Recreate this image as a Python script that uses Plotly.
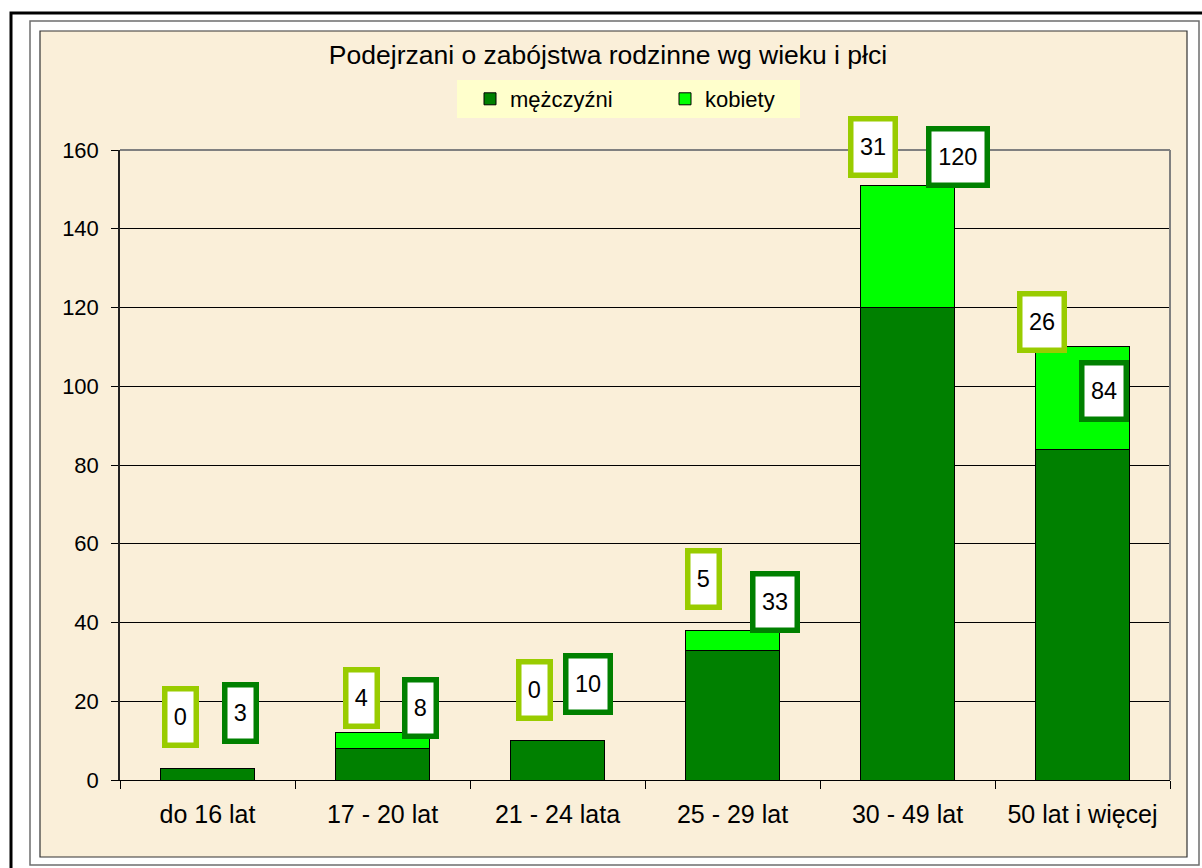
import plotly.graph_objects as go

# ---------------- data ----------------
categories = ["do 16 lat", "17 - 20 lat", "21 - 24 lata", "25 - 29 lat", "30 - 49 lat", "50 lat i więcej"]
men = [3, 8, 10, 33, 120, 84]
women = [0, 4, 0, 5, 31, 26]
series_names = ["mężczyźni", "kobiety"]
y_ticks = [0, 20, 40, 60, 80, 100, 120, 140, 160]
title_text = "Podejrzani o zabójstwa rodzinne wg wieku i płci"

# ---------------- label box placement (x offset in category units, y in data units) ----------------
women_label_dx = [-0.153, -0.121, -0.130, -0.167, -0.200, -0.229]
women_label_y = [15.9, 20.8, 22.8, 51.1, 160.7, 116.4]
men_label_dx = [0.190, 0.216, 0.176, 0.245, 0.290, 0.125]
men_label_y = [16.9, 18.3, 24.3, 45.3, 158.2, 98.9]

# ---------------- styles / geometry ----------------
W, H = 1202, 868
L, R, T, B = 120, 1170, 150, 780
Y_MAX = 160
FONT = "Liberation Sans, Arial, sans-serif"
DARK = "#008000"
LIGHT = "#00FF00"
DARK_BORDER = "#008000"
LIGHT_BORDER = "#99CC00"
BEIGE = "#FAEFD9"


def px(x):
    return (x - L) / (R - L)


def py(y):
    return (B - y) / (B - T)


fig = go.Figure()
fig.add_trace(go.Bar(x=categories, y=men, name=series_names[0],
                     marker=dict(color=DARK, line=dict(color="black", width=1))))
fig.add_trace(go.Bar(x=categories, y=women, name=series_names[1],
                     marker=dict(color=LIGHT, line=dict(color="black", width=1))))

annotations = []
for i in range(len(categories)):
    for val, dx, yy, col in [(women[i], women_label_dx[i], women_label_y[i], LIGHT_BORDER),
                             (men[i], men_label_dx[i], men_label_y[i], DARK_BORDER)]:
        n = len(str(val))
        annotations.append(dict(
            x=i + dx, y=yy / Y_MAX, xref="x", yref="paper", text=str(val), showarrow=False,
            xanchor="center", yanchor="middle",
            font=dict(family=FONT, size=23.5, color="black"),
            bgcolor="white", bordercolor=col, borderwidth=5.5, borderpad=1,
            width=10 + 13.5 * n, height=49, align="center", valign="middle"))

shapes = [
    # outer black frame
    dict(type="rect", xref="paper", yref="paper", x0=px(11), x1=px(1230), y0=py(900), y1=py(13),
         line=dict(color="black", width=3), layer="below"),
    # grey frame
    dict(type="rect", xref="paper", yref="paper", x0=px(30), x1=px(1199), y0=py(865), y1=py(21),
         line=dict(color="#6E6E6E", width=1.5), layer="below"),
    # chart area (parchment)
    dict(type="rect", xref="paper", yref="paper", x0=px(40), x1=px(1187), y0=py(857), y1=py(31),
         fillcolor=BEIGE, line=dict(color="#333333", width=1.2), layer="below"),
    # legend box
    dict(type="rect", xref="paper", yref="paper", x0=px(457), x1=px(800), y0=py(118), y1=py(80),
         fillcolor="#FFFFCC", line=dict(width=0), layer="below"),
    # plot area border (top & right, grey)
    dict(type="line", xref="paper", yref="paper", x0=0, x1=1, y0=1, y1=1,
         line=dict(color="#808080", width=2), layer="above"),
    dict(type="line", xref="paper", yref="paper", x0=1, x1=1, y0=0, y1=1,
         line=dict(color="#808080", width=2), layer="above"),
]

fig.update_layout(
    width=W, height=H,
    margin=dict(l=L, r=W - R, t=T, b=H - B),
    paper_bgcolor="white", plot_bgcolor="rgba(0,0,0,0)",
    barmode="stack", bargap=0.463,
    font=dict(family=FONT, size=22, color="black"),
    title=dict(text=title_text, x=px(608), xref="paper", xanchor="center",
               y=1 - 55 / H, yanchor="middle", font=dict(family=FONT, size=26.5, color="black")),
    legend=dict(orientation="h", x=px(470), y=py(78), xanchor="left", yanchor="top",
                bgcolor="rgba(0,0,0,0)", font=dict(family=FONT, size=22, color="black"),
                traceorder="normal", entrywidth=150),
    xaxis=dict(type="category", showline=True, linecolor="black", linewidth=1,
               ticks="outside", tickson="boundaries", ticklen=8, tickcolor="black",
               tickfont=dict(family=FONT, size=25), showgrid=False, ticklabelstandoff=12),
    yaxis=dict(range=[0, Y_MAX], tickvals=y_ticks, showgrid=True, gridcolor="black", gridwidth=1,
               showline=True, linecolor="#222222", linewidth=1.5, zeroline=False,
               ticks="outside", ticklen=7, tickcolor="black",
               tickfont=dict(family=FONT, size=22), ticklabelstandoff=8),
    annotations=annotations, shapes=shapes,
    showlegend=True,
)

fig.write_html("out.html", config={"displayModeBar": False},
               post_script="document.body.style.margin='0';")
